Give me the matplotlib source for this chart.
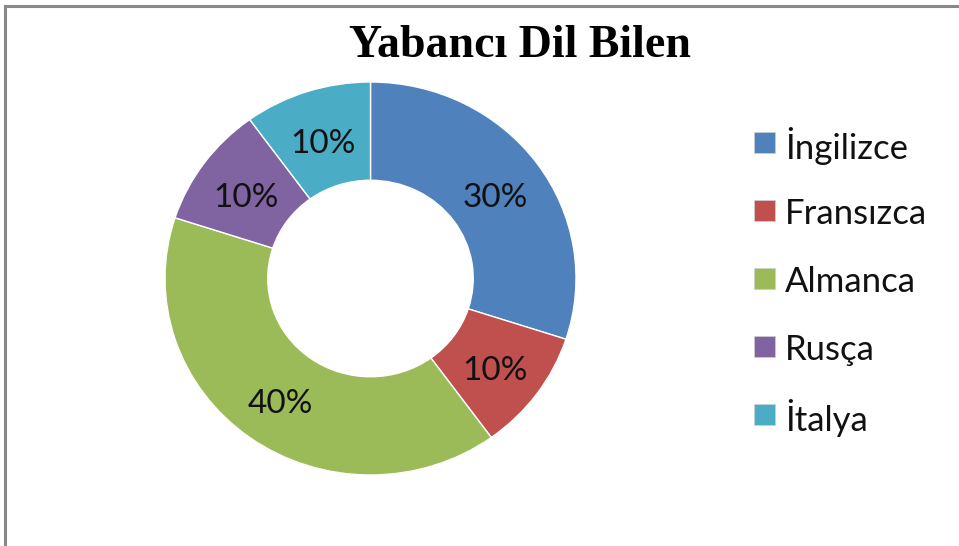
import numpy as np
import matplotlib.pyplot as plt
from matplotlib.lines import Line2D

# veriler
diller = ['İngilizce', 'Fransızca', 'Almanca', 'Rusça', 'İtalya']
oranlar = [30, 10, 40, 10, 10]
renkler = ['#4F81BD', '#C0504D', '#9BBB59', '#8064A2', '#4BACC6']
baslik = 'Yabancı Dil Bilen'

W, H = 959, 546
fig = plt.figure(figsize=(W / 100, H / 100), dpi=100)

# halka grafik (hafif yatay basik, orijinaldeki gibi)
ax = fig.add_axes([165 / W, (H - 475) / H, 411 / W, 393 / H])
wedges, metinler = ax.pie(
    oranlar, colors=renkler, startangle=90, counterclock=False,
    radius=1.0, wedgeprops=dict(width=0.5, edgecolor='white', linewidth=1),
)
ax.set_aspect('auto')
ax.set_xlim(-1, 1)
ax.set_ylim(-1, 1)

toplam = sum(oranlar)
aci = 90.0
for v in oranlar:
    orta = np.deg2rad(aci - v / toplam * 360 / 2)
    aci -= v / toplam * 360
    ax.text(0.75 * np.cos(orta), 0.75 * np.sin(orta) - 0.015, f'{v}%',
            ha='center', va='center_baseline', fontsize=24, family='Lato',
            color='#111111')

fig.text(520 / W, 1 - 46 / H, baslik, ha='center', va='center',
         fontsize=33, fontweight='bold', family='Liberation Serif')

# lejant
ust = 143
for i, (d, r) in enumerate(zip(diller, renkler)):
    y = 1 - (ust + i * 68) / H
    fig.patches.append(plt.Rectangle((754 / W, y - 10 / H), 21 / W, 21 / H,
                                     transform=fig.transFigure, facecolor=r,
                                     edgecolor='#d0d0d0', linewidth=0.5))
    fig.text(785 / W, y, d, ha='left', va='center_baseline', fontsize=25,
             family='Lato', color='#111111')

# cerceve (ust ve sol)
fig.add_artist(Line2D([4.5 / W, 958 / W], [1 - 5.5 / H, 1 - 5.5 / H],
                      transform=fig.transFigure, color='#888888', linewidth=2.2))
fig.add_artist(Line2D([4.5 / W, 4.5 / W], [0, 1 - 5.5 / H],
                      transform=fig.transFigure, color='#888888', linewidth=2.2))

fig.savefig('out.png', dpi=100, facecolor='white')
